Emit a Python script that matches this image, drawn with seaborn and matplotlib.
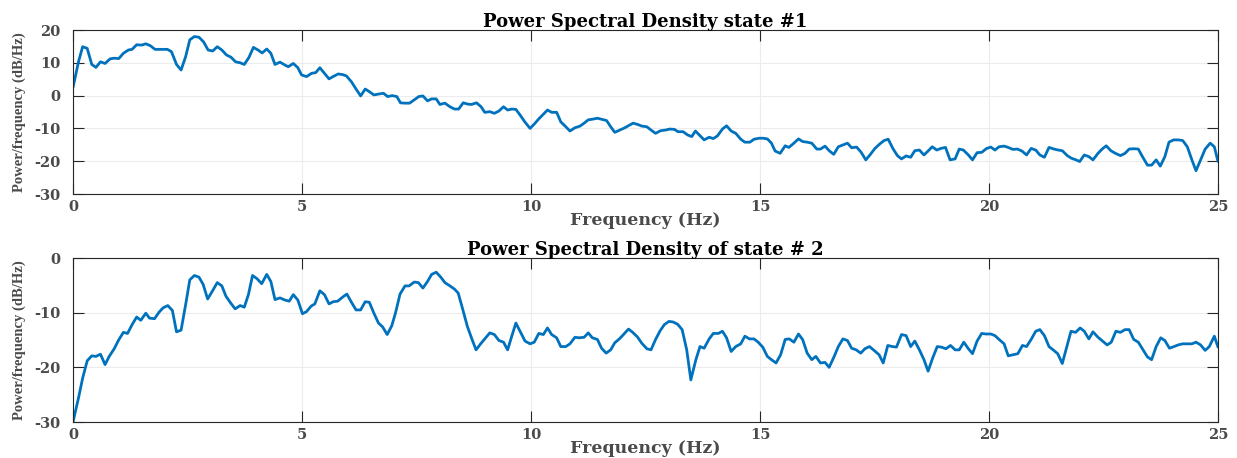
import matplotlib
matplotlib.use("Agg")
import matplotlib.pyplot as plt
import seaborn as sns
import pandas as pd

title1 = "Power Spectral Density state #1"
title2 = "Power Spectral Density of state # 2"
xlabel = "Frequency (Hz)"
ylabel = "Power/frequency (dB/Hz)"
xticks = [0, 5, 10, 15, 20, 25]
yticks1 = [-30, -20, -10, 0, 10, 20]
yticks2 = [-30, -20, -10, 0]

freq1 = [0.0, 0.12, 0.21, 0.31, 0.41, 0.50, 0.60, 0.70, 0.81, 0.90, 1.00, 1.10, 1.21, 1.29, 1.39, 1.50,
         1.59, 1.69, 1.79, 1.90, 1.98, 2.06, 2.15, 2.26, 2.36, 2.46, 2.55, 2.65, 2.75, 2.85, 2.95, 3.05,
         3.15, 3.25, 3.35, 3.45, 3.55, 3.65, 3.74, 3.84, 3.94, 4.05, 4.13, 4.23, 4.32, 4.41, 4.52, 4.63,
         4.70, 4.81, 4.91, 4.99, 5.10, 5.21, 5.30, 5.39, 5.49, 5.59, 5.68, 5.79, 5.89, 5.97, 6.08, 6.18,
         6.28, 6.38, 6.47, 6.57, 6.68, 6.78, 6.87, 6.97, 7.07, 7.15, 7.24, 7.35, 7.45, 7.55, 7.64, 7.74,
         7.83, 7.93, 8.01, 8.12, 8.23, 8.33, 8.42, 8.52, 8.62, 8.70, 8.81, 8.91, 8.99, 9.10, 9.20, 9.30,
         9.40, 9.49, 9.58, 9.67, 9.76, 9.87, 9.98, 10.07, 10.17, 10.27, 10.36, 10.45, 10.56, 10.65, 10.76,
         10.85, 10.96, 11.07, 11.16, 11.25, 11.34, 11.45, 11.54, 11.65, 11.74, 11.83, 11.94, 12.05, 12.15,
         12.23, 12.33, 12.42, 12.53, 12.62, 12.72, 12.83, 12.94, 13.03, 13.13, 13.21, 13.32, 13.42, 13.51,
         13.59, 13.69, 13.78, 13.89, 13.98, 14.07, 14.18, 14.27, 14.37, 14.47, 14.58, 14.67, 14.78, 14.87,
         14.98, 15.07, 15.16, 15.25, 15.33, 15.44, 15.55, 15.63, 15.74, 15.84, 15.93, 16.03, 16.13, 16.24,
         16.32, 16.42, 16.51, 16.61, 16.71, 16.80, 16.91, 17.00, 17.11, 17.21, 17.31, 17.40, 17.51, 17.61,
         17.71, 17.80, 17.90, 18.00, 18.09, 18.19, 18.29, 18.38, 18.48, 18.58, 18.67, 18.76, 18.86, 18.95,
         19.05, 19.15, 19.26, 19.35, 19.44, 19.55, 19.64, 19.74, 19.84, 19.95, 20.04, 20.13, 20.22, 20.33,
         20.42, 20.52, 20.62, 20.72, 20.82, 20.92, 21.02, 21.11, 21.21, 21.31, 21.42, 21.51, 21.60, 21.71,
         21.80, 21.90, 21.98, 22.08, 22.18, 22.27, 22.38, 22.47, 22.56, 22.66, 22.76, 22.87, 22.97, 23.06,
         23.16, 23.26, 23.35, 23.46, 23.55, 23.65, 23.74, 23.84, 23.93, 24.03, 24.13, 24.23, 24.33, 24.43,
         24.52, 24.62, 24.72, 24.83, 24.92, 25.00]
psd1 = [2.5, 10.3, 14.9, 14.4, 9.5, 8.6, 10.3, 9.8, 11.2, 11.4, 11.3, 12.9, 13.9, 14.1, 15.5, 15.4,
        15.8, 15.2, 14.1, 14.1, 14.1, 14.1, 13.4, 9.5, 7.8, 11.9, 17.0, 18.0, 17.8, 16.4, 13.9, 13.6,
        14.9, 13.9, 12.4, 11.7, 10.3, 10.0, 9.5, 11.6, 14.7, 13.8, 13.0, 14.2, 12.9, 9.5, 10.2, 9.3,
        8.8, 9.8, 8.5, 6.3, 5.8, 6.8, 7.0, 8.5, 6.8, 5.1, 5.8, 6.6, 6.4, 6.0, 4.2, 2.0,
        -0.1, 2.0, 1.2, 0.2, 0.5, 0.7, -0.3, 0.0, -0.3, -2.2, -2.3, -2.3, -1.3, -0.3, -0.1, -1.6,
        -1.0, -1.0, -2.7, -2.3, -3.4, -4.1, -4.1, -2.2, -2.6, -2.7, -2.2, -3.4, -5.1, -4.9, -5.4, -4.7,
        -3.4, -4.4, -4.1, -4.2, -5.9, -8.1, -10.0, -8.7, -7.1, -5.7, -4.4, -5.1, -5.1, -8.0, -9.5,
        -10.8, -9.8, -9.3, -8.4, -7.4, -7.2, -6.9, -7.2, -7.6, -9.5, -11.2, -10.5, -9.8, -9.0,
        -8.4, -8.8, -9.3, -9.5, -10.5, -11.5, -10.7, -10.5, -10.2, -10.3, -11.0, -11.0, -12.0, -12.5,
        -10.8, -12.2, -13.5, -12.7, -13.1, -12.3, -10.2, -9.2, -10.8, -11.5, -13.3, -14.2, -14.2, -13.3,
        -13.0, -13.0, -13.2, -14.5, -16.9, -17.6, -15.3, -15.8, -14.5, -13.2, -14.0, -14.2, -14.5, -16.3,
        -16.3, -15.4, -16.8, -17.9, -15.6, -15.1, -14.5, -15.9, -15.7, -17.3, -19.6, -18.1, -16.1, -14.8,
        -13.7, -13.3, -16.1, -18.3, -19.3, -18.4, -18.8, -16.8, -16.6, -18.1, -16.9, -15.6, -16.6, -16.1,
        -15.8, -19.6, -19.3, -16.3, -16.6, -18.1, -19.6, -17.4, -17.3, -16.1, -15.7, -16.6, -15.6, -15.4,
        -15.8, -16.4, -16.3, -16.9, -18.1, -16.1, -16.6, -18.1, -18.8, -15.8, -16.3, -16.6, -16.8, -18.3,
        -19.1, -19.6, -20.1, -18.1, -18.6, -19.6, -17.6, -16.3, -15.3, -16.8, -17.6, -18.3, -17.6, -16.3,
        -16.2, -16.3, -18.6, -21.2, -21.2, -19.6, -21.5, -18.6, -14.2, -13.5, -13.5, -13.7, -15.6, -19.6,
        -22.9, -19.6, -16.3, -14.5, -15.6, -20.1]

freq2 = [0.00, 0.12, 0.21, 0.31, 0.41, 0.50, 0.60, 0.70, 0.79, 0.90, 0.99, 1.10, 1.19, 1.29, 1.39, 1.48,
         1.59, 1.67, 1.78, 1.88, 1.97, 2.07, 2.17, 2.26, 2.36, 2.46, 2.55, 2.65, 2.75, 2.84, 2.94, 3.04,
         3.15, 3.25, 3.34, 3.44, 3.54, 3.65, 3.74, 3.83, 3.92, 4.02, 4.12, 4.23, 4.32, 4.41, 4.52, 4.63,
         4.72, 4.81, 4.91, 5.01, 5.10, 5.20, 5.28, 5.39, 5.49, 5.59, 5.68, 5.78, 5.88, 5.98, 6.08, 6.18,
         6.28, 6.38, 6.47, 6.57, 6.67, 6.76, 6.86, 6.96, 7.04, 7.14, 7.25, 7.34, 7.45, 7.54, 7.64, 7.74,
         7.83, 7.93, 8.03, 8.12, 8.23, 8.33, 8.41, 8.50, 8.61, 8.70, 8.80, 8.90, 8.99, 9.10, 9.20, 9.30,
         9.40, 9.49, 9.58, 9.67, 9.78, 9.87, 9.98, 10.07, 10.17, 10.27, 10.36, 10.45, 10.56, 10.65, 10.76,
         10.85, 10.96, 11.05, 11.16, 11.25, 11.34, 11.45, 11.54, 11.64, 11.74, 11.83, 11.93, 12.03, 12.13,
         12.22, 12.32, 12.42, 12.53, 12.62, 12.72, 12.82, 12.91, 13.01, 13.10, 13.20, 13.30, 13.40, 13.49,
         13.60, 13.69, 13.78, 13.89, 13.98, 14.09, 14.18, 14.27, 14.37, 14.47, 14.58, 14.67, 14.77, 14.87,
         14.96, 15.06, 15.16, 15.25, 15.35, 15.45, 15.55, 15.64, 15.74, 15.84, 15.93, 16.03, 16.13, 16.22,
         16.32, 16.42, 16.51, 16.62, 16.71, 16.81, 16.91, 17.00, 17.10, 17.20, 17.29, 17.39, 17.49, 17.60,
         17.69, 17.79, 17.89, 17.98, 18.09, 18.19, 18.29, 18.38, 18.48, 18.58, 18.67, 18.77, 18.87, 18.96,
         19.06, 19.16, 19.26, 19.35, 19.45, 19.55, 19.64, 19.74, 19.84, 19.93, 20.04, 20.13, 20.22, 20.33,
         20.42, 20.53, 20.63, 20.73, 20.82, 20.92, 21.02, 21.11, 21.21, 21.31, 21.40, 21.50, 21.60, 21.70,
         21.79, 21.89, 21.99, 22.08, 22.18, 22.27, 22.38, 22.48, 22.58, 22.67, 22.77, 22.87, 22.97, 23.06,
         23.16, 23.26, 23.35, 23.46, 23.55, 23.65, 23.75, 23.84, 23.94, 24.04, 24.13, 24.23, 24.33, 24.43,
         24.52, 24.62, 24.72, 24.81, 24.92, 25.00]
psd2 = [-30.0, -25.6, -22.0, -18.8, -17.9, -18.0, -17.6, -19.5, -18.0, -16.6, -15.1, -13.6, -13.8, -12.2, -10.8, -11.4,
        -10.1, -11.0, -11.1, -9.9, -9.1, -8.7, -9.6, -13.5, -13.2, -8.5, -4.0, -3.2, -3.5, -4.8, -7.5, -6.1,
        -4.5, -5.1, -7.0, -8.2, -9.3, -8.7, -9.0, -6.7, -3.2, -3.8, -4.7, -3.0, -4.3, -7.6, -7.3, -7.7,
        -7.9, -6.7, -7.7, -10.2, -9.8, -8.8, -8.4, -6.0, -6.7, -8.4, -8.0, -7.9, -7.2, -6.6, -8.1, -9.5,
        -9.5, -8.0, -8.1, -10.1, -11.9, -12.6, -14.0, -12.4, -10.1, -6.6, -5.1, -5.1, -4.4, -4.5, -5.5, -4.3,
        -3.0, -2.6, -3.5, -4.5, -5.1, -5.7, -6.4, -9.1, -12.5, -14.6, -16.8, -15.7, -14.8, -13.7, -14.0, -15.1,
        -15.4, -16.8, -14.3, -11.9, -13.7, -15.2, -15.7, -15.4, -13.8, -14.0, -12.8, -14.0, -14.6, -16.2, -16.2,
        -15.7, -14.5, -14.6, -14.5, -13.7, -14.6, -14.9, -16.5, -17.4, -16.8, -15.5, -14.8, -13.9, -13.0,
        -13.6, -14.4, -15.6, -16.6, -16.8, -14.9, -13.3, -12.2, -11.6, -11.7, -12.1, -13.1, -16.8, -22.3,
        -18.6, -16.2, -16.5, -14.8, -13.8, -13.8, -13.4, -14.6, -17.1, -16.2, -15.7, -14.3, -14.8, -14.8,
        -15.4, -16.3, -18.0, -18.6, -19.2, -17.7, -14.9, -14.8, -15.4, -13.9, -14.9, -17.4, -18.6, -18.0,
        -19.2, -19.1, -20.0, -18.0, -16.2, -14.8, -15.1, -16.5, -16.8, -17.4, -16.6, -16.2, -16.9, -17.7,
        -19.2, -16.0, -16.2, -16.3, -14.0, -14.2, -16.2, -15.2, -16.8, -18.6, -20.7, -18.3, -16.2, -16.3,
        -16.6, -16.0, -16.8, -16.8, -15.4, -16.6, -17.5, -15.2, -13.8, -13.9, -13.9, -14.2, -14.9, -15.7,
        -17.9, -17.7, -17.5, -16.0, -16.2, -14.9, -13.4, -13.1, -14.2, -16.2, -16.8, -17.5, -19.3, -16.2,
        -13.4, -13.6, -12.8, -13.4, -14.8, -13.5, -14.5, -15.2, -15.9, -15.4, -13.4, -13.6, -13.1, -13.1,
        -14.9, -15.4, -16.6, -18.1, -18.6, -16.2, -14.6, -15.1, -16.5, -16.2, -15.9, -15.7, -15.7, -15.7,
        -15.4, -15.9, -16.9, -16.2, -14.3, -16.3]

sns.set_theme(style="whitegrid")
plt.rcParams['font.family'] = ['DejaVu Serif']
plt.rcParams['font.weight'] = 'bold'

W, H = 1237, 458
fig = plt.figure(figsize=(W / 100, H / 100), dpi=100)
left = 73 / W
width = (1218 - 73) / W
ax1 = fig.add_axes([left, 1 - 194 / H, width, 164 / H])
ax2 = fig.add_axes([left, 1 - 422 / H, width, 164 / H])

LINE = "#0072BD"
LABEL_GRAY = "#4a4a4a"
specs = [
    (ax1, freq1, psd1, title1, yticks1, (-30, 20)),
    (ax2, freq2, psd2, title2, yticks2, (-30, 0)),
]
for ax, f, p, title, yt, ylim in specs:
    df = pd.DataFrame({"Frequency": f, "PSD": p})
    sns.lineplot(data=df, x="Frequency", y="PSD", ax=ax, color=LINE, linewidth=2.0, sort=False)
    ax.set_xlim(0, 25)
    ax.set_ylim(*ylim)
    ax.set_xticks(xticks)
    ax.set_yticks(yt)
    ax.set_xticklabels([str(v) for v in xticks])
    ax.set_yticklabels([str(v) for v in yt])
    ax.grid(True, color="#ececec", linewidth=0.8)
    ax.set_facecolor("white")
    for s in ax.spines.values():
        s.set_visible(True)
        s.set_color("#262626")
        s.set_linewidth(0.8)
    ax.tick_params(axis="both", direction="in", length=8, width=0.8, color="#262626",
                   top=True, right=True, bottom=True, left=True,
                   labelsize=10.5, labelcolor=LABEL_GRAY)
    ax.tick_params(axis="x", pad=4)
    ax.tick_params(axis="y", pad=9)
    for lab in ax.get_xticklabels() + ax.get_yticklabels():
        lab.set_fontweight("bold")
    ax.set_title(title, fontsize=13, fontweight="bold", color="#000000", pad=2)
    ax.set_xlabel(xlabel, fontsize=12.5, fontweight="bold", color=LABEL_GRAY, labelpad=-1)
    ax.set_ylabel(ylabel, fontsize=10.5, fontweight="bold", color=LABEL_GRAY,
                  family=["Liberation Serif", "DejaVu Serif"])
    ax.yaxis.set_label_coords(-0.041, 0.5)

fig.savefig("out.png", dpi=100, facecolor="white")
